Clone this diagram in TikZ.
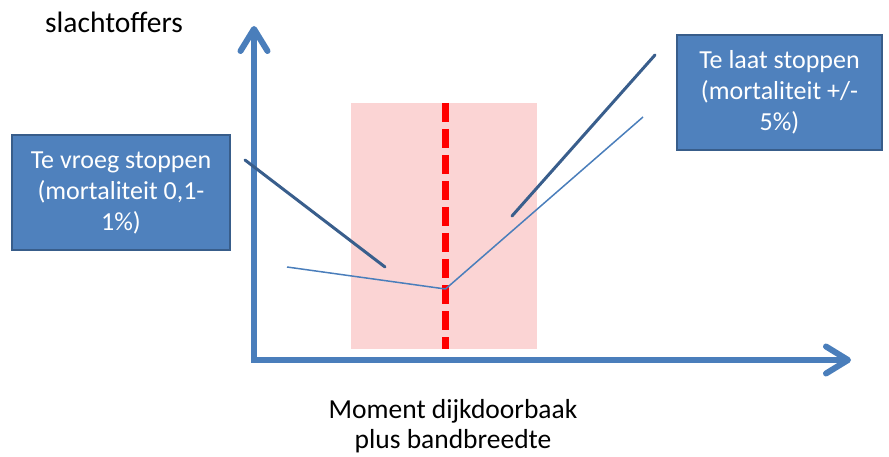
\documentclass[tikz,border=0pt]{standalone}
\usepackage{fontspec}
\setmainfont{Carlito}
\usetikzlibrary{arrows.meta}

\definecolor{axisblue}{HTML}{4A7EBB}
\definecolor{boxblue}{HTML}{4F81BD}
\definecolor{boxedge}{HTML}{385D8A}
\definecolor{darkline}{HTML}{395E8C}
\definecolor{bandpink}{HTML}{FBD4D4}

\tikzset{
  infobox/.style={draw=boxedge, line width=2pt, fill=boxblue, text=white,
    align=center, inner sep=0pt, font=\fontsize{26}{31}\selectfont},
  label/.style={align=center, inner sep=0pt},
}

\begin{document}
\begin{tikzpicture}[x=1pt,y=-1pt]
            \useasboundingbox (0,0) rectangle (889,457);
            \coordinate (O) at (254,360);
            \coordinate (Y) at (254,26);
            \coordinate (X) at (851,360);
            % bandbreedte rond het moment
            \fill [bandpink] (351,103) rectangle (537,349);
            \coordinate (M1) at (445.5,103);
            \coordinate (M2) at (445.5,349);
            \draw [red, line width=7pt, dash pattern=on 19pt off 7pt] (M1) -- (M2);
            % assen
            \draw [axisblue, line width=6pt,
                   {Straight Barb[length=22pt,width=27pt,round]}-{Straight Barb[length=22pt,width=27pt,round]}]
                  (Y) -- (O) -- (X);
            % verloop slachtoffers
            \coordinate (A) at (287,267);
            \coordinate (B) at (445.5,289);
            \coordinate (C) at (643,117);
            \draw [axisblue, line width=1.5pt, line join=round] (A) -- (B) -- (C);
            \coordinate (P1) at (245,160);
            \coordinate (P2) at (385,267);
            \coordinate (Q1) at (512,216);
            \coordinate (Q2) at (655,55);
            \draw [darkline, line width=3pt, line cap=round] (P1) -- (P2);
            \draw [darkline, line width=3pt, line cap=round] (Q1) -- (Q2);
            % teksten
            \node [infobox, minimum width=218pt, minimum height=115pt] (vroeg) at (121,192.5)
                  {Te vroeg stoppen\\(mortaliteit 0,1-\\1\%)};
            \node [infobox, minimum width=205pt, minimum height=115pt] (laat) at (779.5,92.5)
                  {Te laat stoppen\\(mortaliteit +/-\\5\%)};
            \node [label, anchor=base west, font=\fontsize{29.5}{34}\selectfont] (yas) at (45,33) {slachtoffers};
            \node [label, font=\fontsize{27.5}{30}\selectfont] (xas) at (453,426) {Moment dijkdoorbaak\\plus bandbreedte};
\end{tikzpicture}
\end{document}
